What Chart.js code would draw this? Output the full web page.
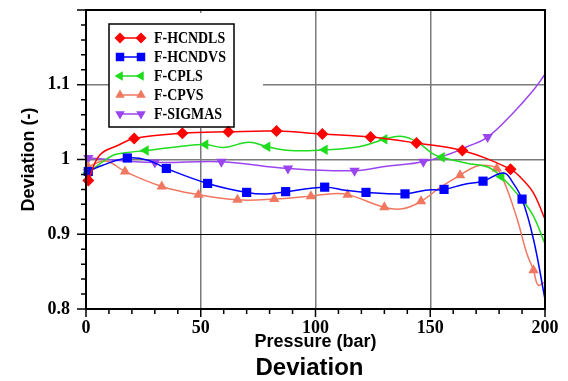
<!DOCTYPE html>
<html>
<head>
<meta charset="utf-8">
<script src="https://cdn.jsdelivr.net/npm/chart.js@4"></script>
<style>
  html, body { margin: 0; padding: 0; background: #fff; }
  #wrap { width: 568px; height: 381px; }
</style>
</head>
<body>
<div id="wrap"><canvas id="devChart"></canvas></div>
<script>
// Deviation vs pressure, five property models

const hcndlsP = [1, 6, 14, 21, 42, 62, 83, 103, 124, 144, 164, 185, 190, 195, 200];
const hcndlsD = [0.972, 1.006, 1.019, 1.028, 1.035, 1.037, 1.038, 1.034, 1.030, 1.022, 1.012, 0.987, 0.974, 0.955, 0.920];
const hcndlsMarks = [1, 21, 42, 62, 83, 103, 124, 144, 164, 185];

const hcndvsP = [1, 7, 18, 27, 35, 53, 70, 79, 87, 104, 113, 122, 139, 148, 156, 165, 173, 182, 186, 190, 195, 200];
const hcndvsD = [0.984, 0.992, 1.002, 0.999, 0.988, 0.968, 0.956, 0.954, 0.957, 0.963, 0.959, 0.956, 0.954, 0.959, 0.960, 0.967, 0.971, 0.982, 0.969, 0.947, 0.893, 0.813];
const hcndvsMarks = [1, 18, 35, 53, 70, 87, 104, 122, 139, 156, 173, 190];

const cplsP = [1, 6, 12, 17, 26, 40, 52, 60, 71, 79, 89, 104, 119, 130, 137, 144, 151, 155, 166, 175, 181, 190, 195, 200];
const cplsD = [0.982, 0.994, 1.006, 1.009, 1.012, 1.017, 1.020, 1.016, 1.023, 1.017, 1.012, 1.013, 1.017, 1.027, 1.031, 1.024, 1.008, 1.003, 0.995, 0.990, 0.977, 0.946, 0.924, 0.887];
const cplsMarks = [1, 26, 52, 79, 104, 130, 155, 181];

const cpvsP = [1, 6, 10, 17, 33, 49, 66, 82, 98, 106, 114, 130, 138, 146, 154, 163, 170, 175, 179, 183, 188, 192, 195, 197, 200];
const cpvsD = [0.990, 0.997, 0.997, 0.984, 0.964, 0.953, 0.946, 0.947, 0.951, 0.954, 0.953, 0.936, 0.934, 0.944, 0.962, 0.979, 0.991, 0.992, 0.988, 0.964, 0.919, 0.875, 0.852, 0.832, 0.836];
const cpvsMarks = [1, 17, 33, 49, 66, 82, 98, 114, 130, 146, 163, 179, 195];

const sigmasP = [1, 30, 59, 88, 117, 131, 147, 159, 166, 175, 186, 195, 200];
const sigmasD = [1.002, 0.996, 0.997, 0.988, 0.985, 0.991, 0.997, 1.008, 1.017, 1.030, 1.062, 1.093, 1.114];
const sigmasMarks = [1, 30, 59, 88, 117, 147, 175];

const seriesNames = ['F-HCNDLS', 'F-HCNDVS', 'F-CPLS', 'F-CPVS', 'F-SIGMAS'];
const seriesColors = ['#ff0000', '#0000ff', '#1fdc1f', '#f07860', '#9a45f0'];
const seriesShapes = ['rectRot', 'rect', 'triangle', 'triangle', 'triangle'];
const seriesRotation = [0, 0, -90, 0, 180];
const seriesRadius = [6, 6.5, 6, 6, 6];

const pressureLabels = [0, 50, 100, 150, 200];
const deviationLabels = [0.8, 0.9, 1, 1.1];

const serifFamily = '"Times New Roman", "Liberation Serif", "DejaVu Serif", serif';
const sansFamily = 'Arial, "Liberation Sans", sans-serif';

const near = (a, b) => Math.abs(a - b) < 1e-6;

function makeSet(i, xs, ys, marks) {
    return {
        label: seriesNames[i],
        data: xs.map((x, k) => ({ x: x, y: ys[k] })),
        borderColor: seriesColors[i],
        backgroundColor: seriesColors[i],
        borderWidth: 1.5,
        tension: 0.4,
        pointStyle: seriesShapes[i],
        rotation: seriesRotation[i],
        pointRadius: ctx => marks.includes(xs[ctx.dataIndex]) ? seriesRadius[i] : 0,
        pointBorderWidth: 0,
        pointHoverRadius: 0,
        clip: false
    };
}

// frame, minor/major ticks, legend box and bottom caption
const decorPlugin = {
    id: 'decor',
    beforeDatasetsDraw(chart) {
        const ctx = chart.ctx;
        const a = chart.chartArea;
        // legend box blanks the grid behind it
        ctx.save();
        ctx.fillStyle = '#fff';
        ctx.fillRect(a.left + 23, a.top + 3, 154, 115);
        ctx.restore();
    },
    afterDraw(chart) {
        const ctx = chart.ctx;
        const a = chart.chartArea;
        const xs = chart.scales.x;
        const ys = chart.scales.y;
        ctx.save();
        ctx.strokeStyle = '#000';
        ctx.lineWidth = 1.5;
        ctx.beginPath();
        ys.ticks.forEach(t => {
            const py = ys.getPixelForValue(t.value);
            const major = near(Math.round(t.value * 10) / 10, t.value);
            ctx.moveTo(a.left, py);
            ctx.lineTo(a.left - (major ? 9 : 5), py);
        });
        xs.ticks.forEach(t => {
            const px = xs.getPixelForValue(t.value);
            const major = t.value % 50 === 0;
            ctx.moveTo(px, a.bottom);
            ctx.lineTo(px, a.bottom + (major ? 8 : 5));
        });
        ctx.stroke();
        ctx.lineWidth = 2;
        ctx.strokeRect(a.left, a.top, a.right - a.left, a.bottom - a.top);

        // legend
        const bx = a.left + 23, by = a.top + 14;
        ctx.lineWidth = 1.5;
        ctx.strokeRect(bx, by, 125, 103);
        chart.data.datasets.forEach((ds, i) => {
            const y = by + 14 + i * 19;
            ctx.strokeStyle = ds.borderColor;
            ctx.lineWidth = 1.5;
            ctx.beginPath();
            ctx.moveTo(bx + 11, y);
            ctx.lineTo(bx + 32, y);
            ctx.stroke();
            ctx.fillStyle = ds.backgroundColor;
            [bx + 11, bx + 32].forEach(px => {
                Chart.helpers.drawPoint(ctx, {
                    pointStyle: seriesShapes[i],
                    rotation: seriesRotation[i],
                    radius: seriesRadius[i] - 0.5,
                    borderWidth: 0
                }, px, y);
            });
            // narrow serif labels
            ctx.save();
            ctx.translate(bx + 45, y + 1);
            ctx.scale(0.87, 1);
            ctx.fillStyle = '#000';
            ctx.font = 'bold 16px ' + serifFamily;
            ctx.textAlign = 'left';
            ctx.textBaseline = 'middle';
            ctx.fillText(ds.label, 0, 0);
            ctx.restore();
        });

        ctx.fillStyle = '#000';
        ctx.font = 'bold 24px ' + sansFamily;
        ctx.textAlign = 'center';
        ctx.textBaseline = 'alphabetic';
        ctx.fillText('Deviation', (a.left + a.right) / 2 - 6, 375);
        ctx.restore();
    }
};

Chart.defaults.color = '#000';

const devChart = new Chart(document.getElementById('devChart').getContext('2d'), {
    type: 'line',
    data: {
        datasets: [
            makeSet(0, hcndlsP, hcndlsD, hcndlsMarks),
            makeSet(1, hcndvsP, hcndvsD, hcndvsMarks),
            makeSet(2, cplsP, cplsD, cplsMarks),
            makeSet(3, cpvsP, cpvsD, cpvsMarks),
            makeSet(4, sigmasP, sigmasD, sigmasMarks)
        ]
    },
    options: {
        responsive: true,
        maintainAspectRatio: false,
        animation: false,
        events: [],
        layout: { padding: { top: 10, right: 23, bottom: 0, left: 0 } },
        scales: {
            x: {
                type: 'linear',
                min: 0,
                max: 200,
                afterFit: s => { s.height = 72; s.paddingLeft = 0; s.paddingRight = 0; },
                border: { display: false },
                grid: {
                    drawTicks: false,
                    color: c => [50, 100, 150].includes(c.tick.value) ? '#7a7a7a' : 'rgba(0,0,0,0)',
                    lineWidth: 1.5
                },
                ticks: {
                    stepSize: 10,
                    padding: 9,
                    maxRotation: 0,
                    autoSkip: false,
                    font: { family: serifFamily, weight: 'bold', size: 18 },
                    callback: v => pressureLabels.includes(v) ? String(v) : ''
                },
                title: {
                    display: true,
                    text: 'Pressure (bar)',
                    font: { family: sansFamily, weight: 'bold', size: 18 },
                    padding: { top: 0, bottom: 28 }
                }
            },
            y: {
                min: 0.8,
                max: 1.2,
                afterFit: s => { s.width = 86; s.paddingTop = 0; s.paddingBottom = 0; },
                border: { display: false },
                grid: {
                    drawTicks: false,
                    color: c => near(c.tick.value, 0.9) ? '#000' :
                        (near(c.tick.value, 1) || near(c.tick.value, 1.1)) ? '#7a7a7a' : 'rgba(0,0,0,0)',
                    lineWidth: c => near(c.tick.value, 0.9) ? 1 : 1.5
                },
                ticks: {
                    stepSize: 0.02,
                    padding: 16,
                    autoSkip: false,
                    font: { family: serifFamily, weight: 'bold', size: 18 },
                    callback: v => {
                        const hit = deviationLabels.find(d => near(d, v));
                        return hit === undefined ? '' : String(hit);
                    }
                },
                title: {
                    display: true,
                    text: 'Deviation (-)',
                    font: { family: sansFamily, weight: 'bold', size: 18 },
                    padding: { top: 18, bottom: 0 }
                }
            }
        },
        plugins: {
            legend: { display: false },
            tooltip: { enabled: false }
        }
    },
    plugins: [decorPlugin]
});
</script>
</body>
</html>
